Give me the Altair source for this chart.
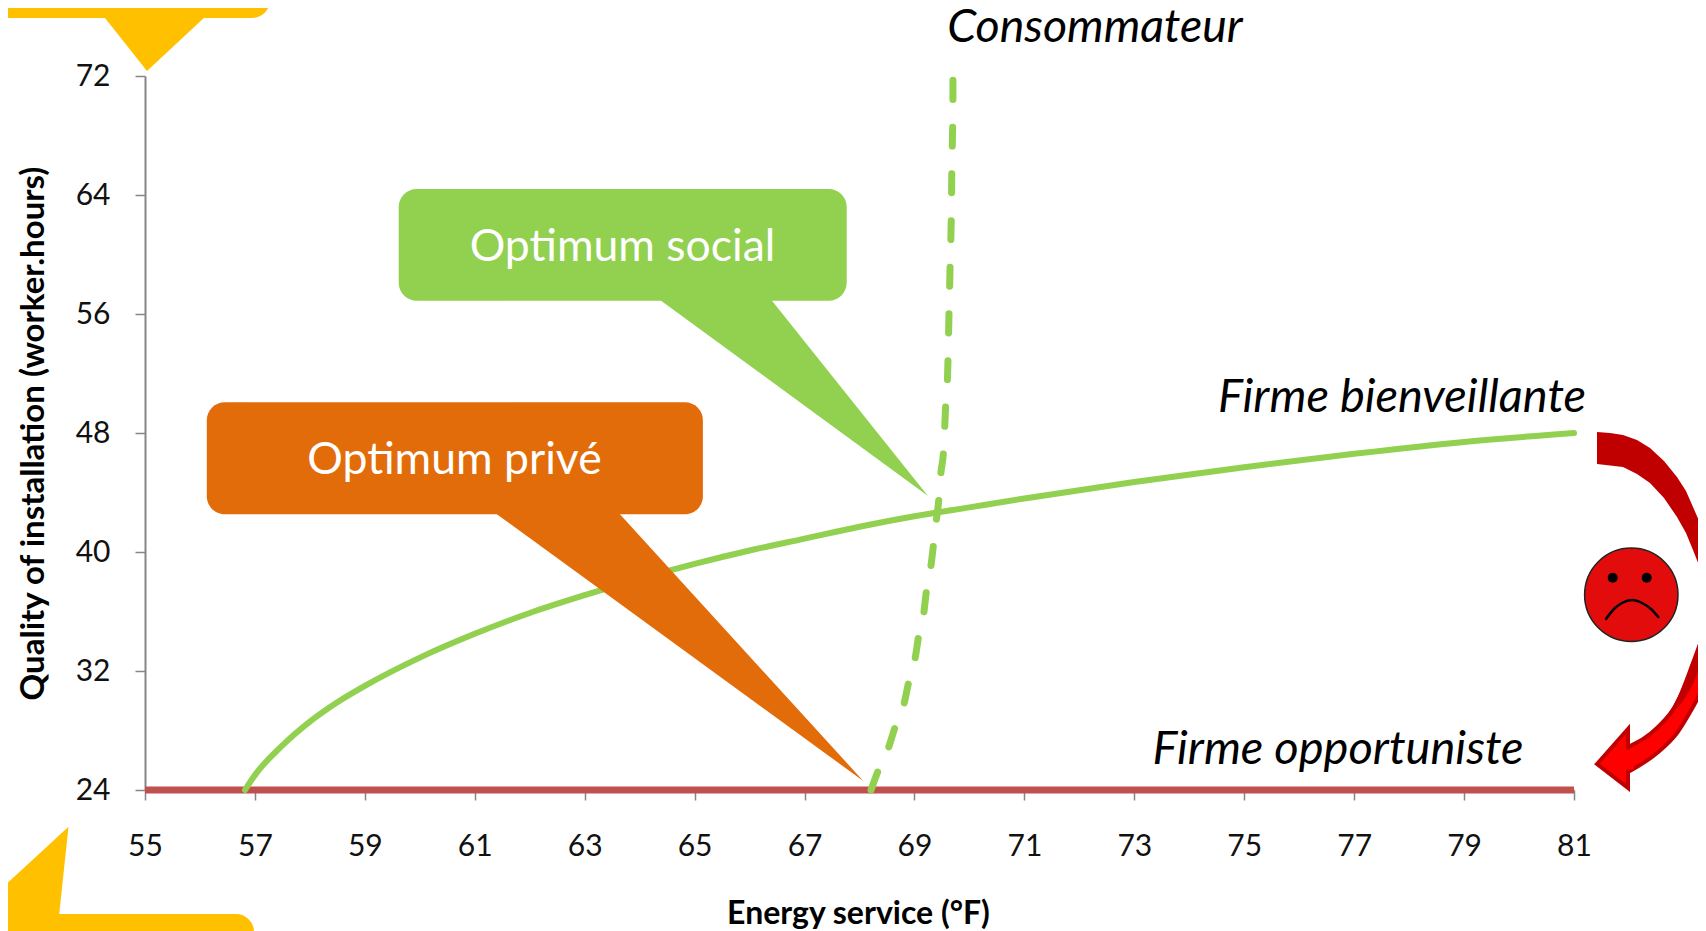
import altair as alt
import numpy as np
import pandas as pd

# ---- chart data (axis units) ----
x_ticks = list(range(55, 82, 2))
y_ticks = list(range(24, 73, 8))
bien_x = [56.82, 57, 57.5, 58, 58.5, 59, 60, 61, 62, 63, 64, 65, 66, 67, 68, 69, 70, 71, 73, 75, 77, 79, 81]
bien_y = [24.0, 25.0, 27.0, 28.6, 29.9, 31.0, 32.9, 34.5, 35.9, 37.1, 38.2, 39.2, 40.1, 40.9, 41.7, 42.4, 43.0, 43.6, 44.7, 45.7, 46.6, 47.4, 48.0]
cons_x = [68.21, 68.36, 68.52, 68.66, 68.81, 68.90, 69.01, 69.08, 69.17, 69.22, 69.30, 69.35, 69.40, 69.45, 69.48, 69.53, 69.55, 69.57, 69.60, 69.63, 69.65, 69.67, 69.68, 69.70, 69.70]
cons_y = [24.0, 25.48, 26.76, 28.37, 29.79, 31.33, 32.81, 34.43, 35.91, 37.46, 39.07, 40.62, 42.17, 43.78, 45.26, 46.87, 48.35, 50.04, 51.58, 56.29, 59.45, 62.55, 65.71, 70.42, 72.0]
opp_x = [55, 81]
opp_y = [24, 24]

GREEN, ORANGE, RED, YELLOW = "#92D050", "#E36C0A", "#C0504D", "#FFC000"
FONT = "Lato"

W, H, LEFT, TOP = 1429, 714, 145, 76
def dx(px): return 55 + (px - LEFT) * 26 / W
def dy(py): return 72 - (py - TOP) * 48 / H

xs = alt.Scale(domain=[55, 81], nice=False, zero=False)
ys = alt.Scale(domain=[24, 72], nice=False, zero=False)
X = alt.X("x:Q", scale=xs, title="Energy service (°F)",
          axis=alt.Axis(values=x_ticks, grid=False, tickSize=10, tickColor="#868686", tickWidth=1.5,
                        domainColor="#868686", domainWidth=1.5, labelFont=FONT, labelFontSize=30,
                        labelColor="#111111", labelPadding=31, labelFlush=False, labelOverlap=False,
                        titleFont=FONT, titleFontSize=32, titleFontWeight="bold", titleColor="black",
                        titleX=713, titleY=133, titleBaseline="alphabetic", titleAlign="center"))
Y = alt.Y("y:Q", scale=ys, title="Quality of installation  (worker.hours)",
          axis=alt.Axis(values=y_ticks, grid=False, tickSize=10, tickColor="#868686", tickWidth=1.5,
                        domainColor="#868686", domainWidth=2, labelFont=FONT, labelFontSize=30,
                        labelColor="#111111", labelPadding=25, labelFlush=False, labelOverlap=False,
                        titleFont=FONT, titleFontSize=33, titleFontWeight="bold", titleColor="black",
                        titleX=-102, titleY=357, titleBaseline="alphabetic", titleAlign="center"))

def table(xv, yv):
    return pd.DataFrame({"x": xv, "y": yv, "o": range(len(xv))})

# ---- annotation helpers (page positions turned into axis units) ----
def box(x0, x1, y0, y1, color, radius=18):
    df = pd.DataFrame({"x": [dx(x0)], "x2": [dx(x1)], "y": [dy(y0)], "y2": [dy(y1)]})
    return alt.Chart(df).mark_rect(color=color, cornerRadius=radius).encode(X, x2="x2:Q", y=Y, y2="y2:Q")

def tri(a, b, c, color, **kw):
    p = sorted([a, b, c])
    m = p[0][1] + (p[2][1] - p[0][1]) * (p[1][0] - p[0][0]) / (p[2][0] - p[0][0])
    rows = [(p[0][0], p[0][1], p[0][1]), (p[1][0], p[1][1], m), (p[2][0], p[2][1], p[2][1])]
    df = pd.DataFrame([{"x": dx(r[0]), "y": dy(r[1]), "y2": dy(r[2])} for r in rows])
    return alt.Chart(df).mark_area(color=color, opacity=1, **kw).encode(X, y=Y, y2="y2:Q")

def label(text, cx, base, size, color="black", style="normal", align="center"):
    df = pd.DataFrame({"x": [dx(cx)], "y": [dy(base)], "t": [text]})
    return alt.Chart(df).mark_text(font=FONT, fontSize=size, color=color, fontStyle=style,
                                   align=align, baseline="alphabetic").encode(X, Y, text="t:N")

# ---- series ----
opp = alt.Chart(table(opp_x, opp_y)).mark_line(color=RED, strokeWidth=7).encode(X, Y)
bien = alt.Chart(table(bien_x, bien_y)).mark_line(color=GREEN, strokeWidth=6, interpolate="monotone", strokeCap="round").encode(X, Y, order="o:Q")
cons = alt.Chart(table(cons_x, cons_y)).mark_line(color=GREEN, strokeWidth=7, interpolate="monotone",
                                                  strokeDash=[19, 27.7], strokeCap="round").encode(X, Y, order="o:Q")

# ---- smiley ----
face = alt.Chart(table([dx(1631.3)], [dy(594.7)])).mark_point(shape="circle", size=8720, filled=True, fill="#E30C0C",
                                                             stroke="#222222", strokeWidth=1.5, opacity=1).encode(X, Y)
eyes = alt.Chart(table([dx(1612.7), dx(1646.7)], [dy(577.7), dy(577.7)])).mark_point(shape="circle", size=100, filled=True,
                                                                                     color="black", opacity=1).encode(X, Y)
mouth = alt.Chart(table([dx(v) for v in (1606, 1614, 1622, 1632, 1642, 1651, 1658.3)],
                        [dy(v) for v in (619, 609, 603, 600, 603, 609, 617)])).mark_line(
    color="black", strokeWidth=2.5, interpolate="monotone", strokeCap="round").encode(X, Y, order="o:Q")

# ---- curved arrow ----
outer_y = [432, 433, 435, 440, 448, 461, 477, 491, 507, 523, 540, 587, 620]
outer_x = [1597, 1610, 1623, 1637, 1650, 1664, 1677, 1686, 1693, 1700, 1706, 1722, 1730]
inner_y = [432, 464, 467, 474, 483, 498, 517, 533, 550, 568, 587, 620]
inner_x = [1597, 1597, 1623, 1637, 1650, 1664, 1677, 1686, 1693, 1700, 1706, 1714]
up_rows = [(py, float(np.interp(py, inner_y, inner_x)), float(np.interp(py, outer_y, outer_x)))
           for py in sorted(set(outer_y[:-1] + inner_y[:-1]))]
up_df = pd.DataFrame([{"y": dy(r[0]), "x": dx(r[1]), "x2": dx(r[2])} for r in up_rows])
arrow_up = alt.Chart(up_df).mark_area(color="#C00000", orient="horizontal", opacity=1).encode(X, x2="x2:Q", y=Y)

low_rows = [(1628, 747, 772), (1657, 728, 753), (1677, 703, 733), (1693, 663, 707), (1706, 627, 683), (1730, 560, 650)]
low_df = pd.DataFrame([{"x": dx(r[0]), "y": dy(r[1]), "y2": dy(r[2])} for r in low_rows])
arrow_shaft = alt.Chart(low_df).mark_area(color="#FF0000", stroke="#C00000", strokeWidth=4, opacity=1,
                                          interpolate="monotone").encode(X, y=Y, y2="y2:Q")
arrow_head = tri((1597, 764), (1628, 729), (1628, 788), "#FF0000", stroke="#C00000", strokeWidth=4, strokeJoin="miter")
arrow_join = box(1622, 1634, 749.5, 769.5, "#FF0000", radius=0)
band_rows = [(1670, 712, 716), (1693, 663, 684), (1706, 627, 652), (1730, 560, 620)]
band_df = pd.DataFrame([{"x": dx(r[0]), "y": dy(r[1]), "y2": dy(r[2])} for r in band_rows])
arrow_band = alt.Chart(band_df).mark_area(color="#C00000", opacity=1, interpolate="monotone").encode(X, y=Y, y2="y2:Q")

chart = alt.layer(
    opp, bien, cons,
    tri((657.3, 298), (769.8, 298), (928, 496), GREEN), box(398.7, 846.7, 189, 300.7, GREEN),
    tri((493.8, 512), (617.9, 512), (863.3, 781), ORANGE), box(206.8, 702.9, 402.3, 514.3, ORANGE),
    tri((103.4, 16), (206, 16), (147, 71), YELLOW), box(-40, 270, -60, 18, YELLOW),
    tri((-30, 917.7), (68.5, 826.7), (59, 916), YELLOW), box(-40, 254, 914, 990, YELLOW),
    label("Optimum social", 622.5, 260.7, 44.5, "white"),
    label("Optimum privé", 454.5, 474, 44.5, "white"),
    label("Consommateur", 1095, 41.5, 46.5, style="italic"),
    label("Firme bienveillante", 1402, 412, 47, style="italic"),
    label("Firme opportuniste", 1338, 764, 47, style="italic"),
    face, eyes, mouth, arrow_up, arrow_shaft, arrow_head, arrow_join, arrow_band,
).properties(
    width=W, height=H,
    autosize=alt.AutoSizeParams(type="none"),
    padding={"left": LEFT - 8, "top": TOP - 8, "right": 1690 - (LEFT - 8) - W, "bottom": 923 - (TOP - 8) - H},
).configure_view(stroke=None)

chart.save("out.html", embed_options={"renderer": "svg", "actions": False})
